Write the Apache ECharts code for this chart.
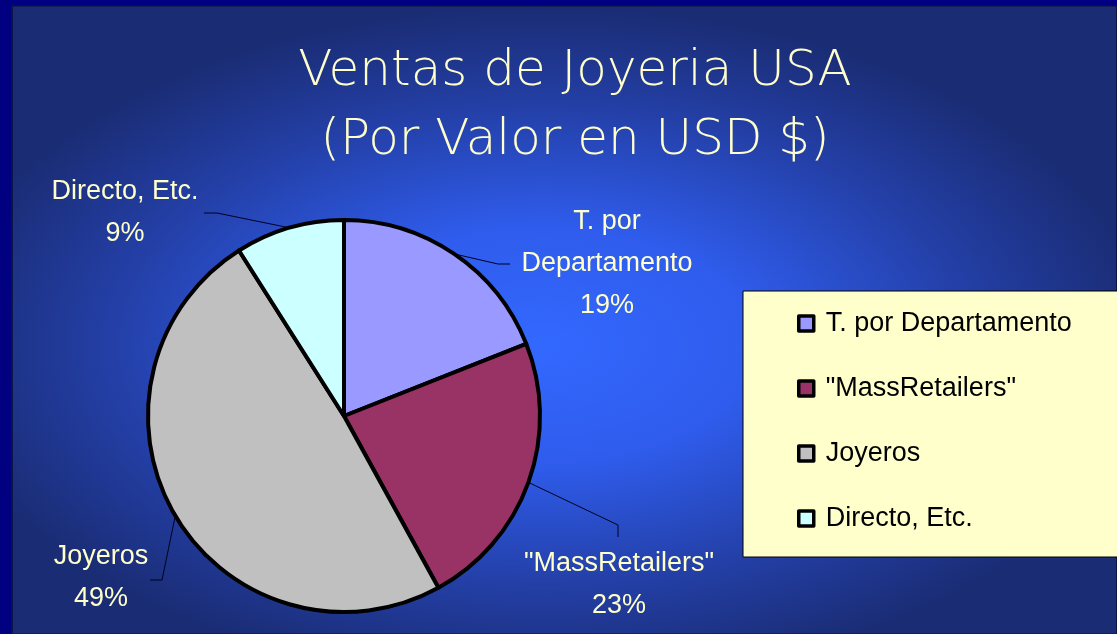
<!DOCTYPE html>
<html>
<head>
<meta charset="utf-8">
<script src="https://cdn.jsdelivr.net/npm/echarts@6/dist/echarts.min.js"></script>
<style>html,body{margin:0;padding:0;background:#000080}#c{width:1117px;height:634px}</style>
</head>
<body>
<div id="c"></div>
<script>
const titleLines = ['Ventas de Joyeria USA', '(Por Valor en USD $)'];
const categories = ['T. por Departamento', '"MassRetailers"', 'Joyeros', 'Directo, Etc.'];
const labelNames = ['T. por\nDepartamento', '"MassRetailers"', 'Joyeros', 'Directo, Etc.'];
const values = [19, 23, 49, 9];
const colors = ['#9999ff', '#993366', '#c0c0c0', '#ccffff'];

// label placement (layout only)
const labelPlace = [
  {x: 607, y: 264, bend: [498, 264], end: [510, 264]},
  {x: 619, y: 585, bend: [618, 525], end: [618, 537]},
  {x: 101, y: 578, bend: [162, 580], end: [150, 580]},
  {x: 125, y: 213, bend: [217, 213], end: [204, 213]}
];

const chart = echarts.init(document.getElementById('c'), null, {renderer: 'canvas'});
const sx = 1.8;
chart.setOption({
  animation: false,
  backgroundColor: '#000080',
  graphic: [
    {
      type: 'rect', z: -10, silent: true,
      x: 12, y: 6, scaleX: sx,
      shape: {x: 0, y: 0, width: 1105 / sx, height: 628},
      style: {
        fill: new echarts.graphic.RadialGradient(0.48, 0.54, 0.55, [
          {offset: 0, color: '#3368ff'},
          {offset: 0.35, color: '#2f5cec'},
          {offset: 0.7, color: '#2440a8'},
          {offset: 1, color: '#1a2c74'}
        ]),
        stroke: '#0b1440', lineWidth: 1
      }
    }
  ],
  title: {
    text: titleLines.join('\n'),
    left: 575, top: 38, textAlign: 'center', padding: 0,
    textStyle: {
      color: '#ffffcc', fontSize: 50, fontWeight: 'lighter',
      fontFamily: "'DejaVu Sans ExtraLight', 'DejaVu Sans', sans-serif",
      lineHeight: 69
    }
  },
  legend: {
    orient: 'vertical',
    left: 743, top: 291,
    padding: [19, 80, 25, 54],
    backgroundColor: '#ffffcc',
    borderColor: '#000', borderWidth: 1,
    itemGap: 38,
    itemWidth: 15, itemHeight: 15,
    icon: 'rect',
    itemStyle: {borderColor: '#000', borderWidth: 3.5},
    textStyle: {color: '#000', fontSize: 27, fontFamily: "'Liberation Sans', Arial, sans-serif", lineHeight: 25, padding: [0, 0, 0, 7]},
    data: categories,
    selectedMode: false
  },
  series: [{
    type: 'pie',
    center: [344, 416],
    radius: 196,
    startAngle: 90,
    clockwise: true,
    silent: true,
    data: categories.map((c, i) => ({name: c, value: values[i], itemStyle: {color: colors[i]}})),
    itemStyle: {borderColor: '#000', borderWidth: 4},
    label: {
      show: true,
      position: 'outside',
      color: '#ffffcc',
      fontSize: 27,
      lineHeight: 42,
      fontFamily: "'Liberation Sans', Arial, sans-serif",
      formatter: p => labelNames[p.dataIndex] + '\n' + p.percent.toFixed(0) + '%'
    },
    labelLine: {show: true, length: 10, length2: 10, lineStyle: {color: '#000022', width: 1}},
    labelLayout: function (params) {
      const p = labelPlace[params.dataIndex];
      const start = params.labelLinePoints ? params.labelLinePoints[0] : p.bend;
      return {
        x: p.x, y: p.y, align: 'center', verticalAlign: 'middle',
        labelLinePoints: [start, p.bend, p.end]
      };
    },
    emphasis: {disabled: true}
  }]
});
</script>
</body>
</html>
